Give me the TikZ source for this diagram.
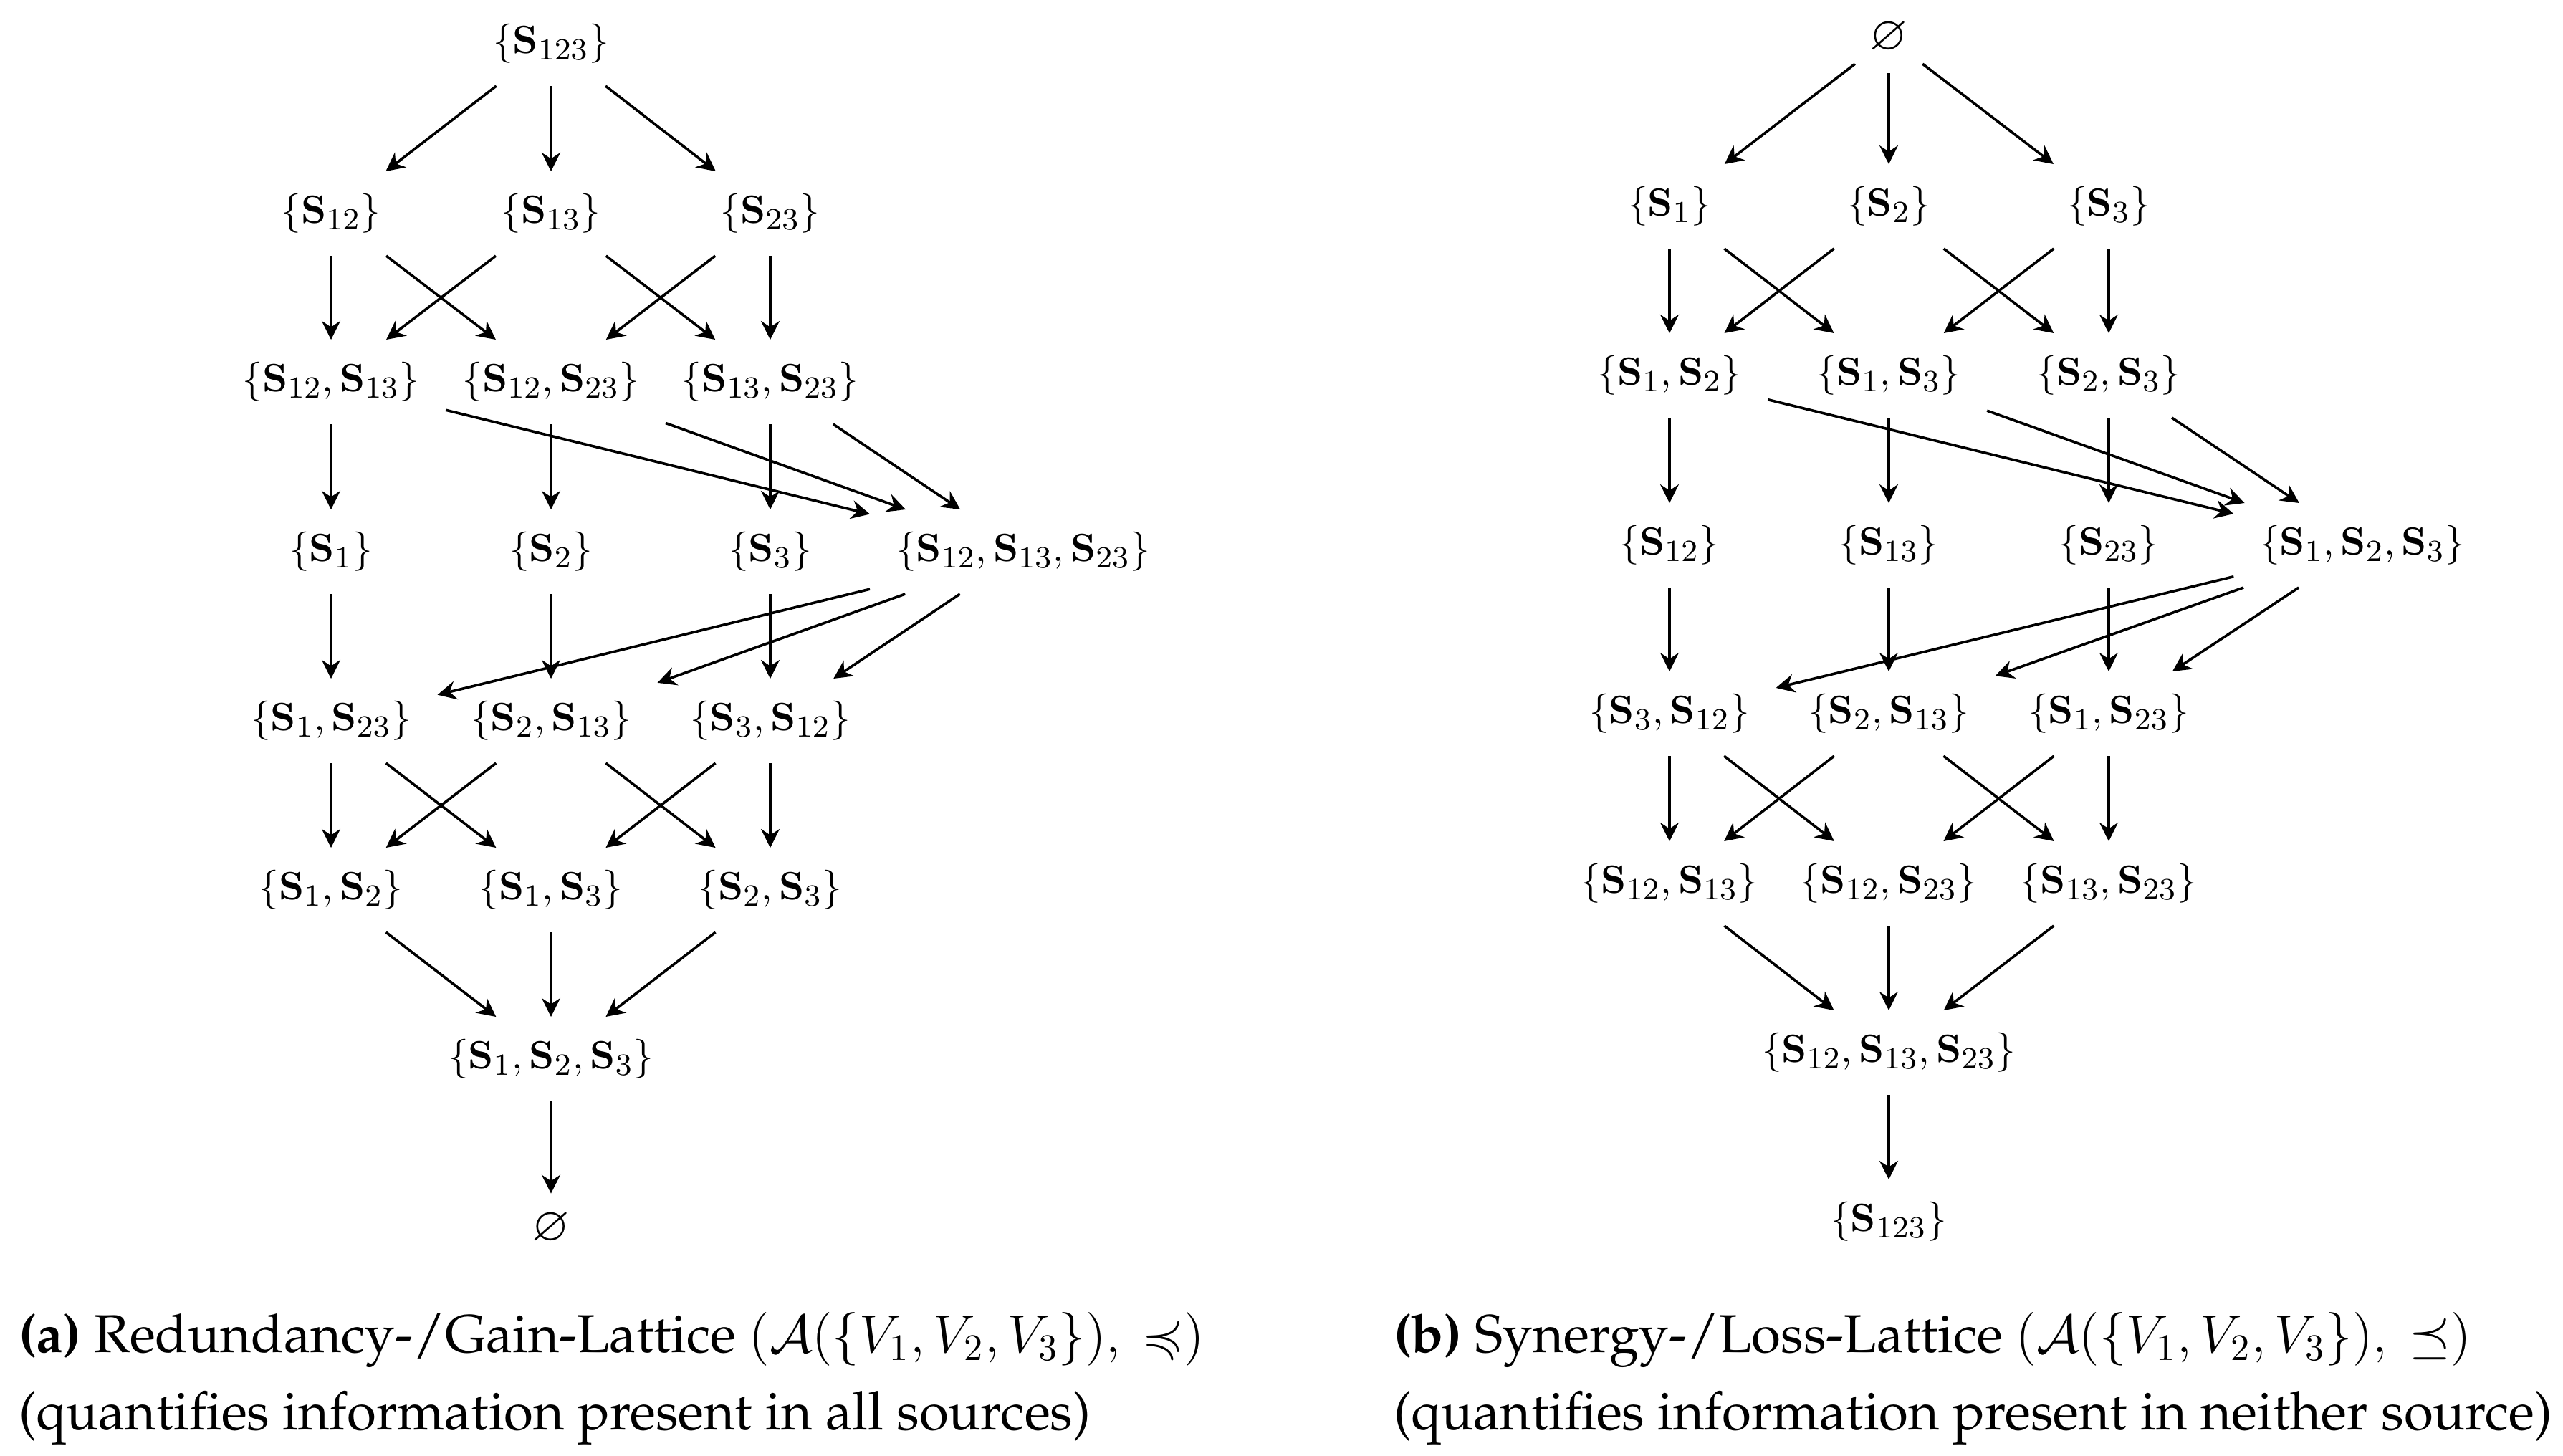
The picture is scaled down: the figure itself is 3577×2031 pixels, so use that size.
\RequirePackage{fix-cm}
\documentclass[tikz,border=0pt]{standalone}
\usepackage[T1,TU]{fontenc}
\usepackage{amsmath,amssymb}
\usetikzlibrary{arrows.meta}
\DeclareMathSizes{11}{11}{8.6}{6.5}
\newcommand{\myS}{\mathbf{S}}
\newcommand{\capfont}{\fontencoding{T1}\fontfamily{ppl}\fontsize{14.9}{21.6}\selectfont}
\tikzset{
  lat/.style={inner xsep=7.2pt, inner ysep=6.1pt, text height=8.25pt, text depth=2.75pt, font=\fontsize{11}{13}\selectfont},
  es/.style={inner xsep=4pt, inner ysep=5.2pt, font=\fontsize{13.5}{16}\selectfont},
  arr/.style={-{Stealth[length=5.2pt,width=5.2pt,inset=1.7pt]}, line width=0.72pt},
  captxt/.style={anchor=base west, inner sep=0pt, font=\capfont}
}
\begin{document}
\begin{tikzpicture}[x=0.2pt,y=-0.2pt]
\useasboundingbox (0,0) rectangle (3577,2031);
% ---------- left lattice ----------
\node[lat] (a0)  at (769,61)   {$\{\myS_{123}\}$};
\node[lat] (a11) at (462,298)  {$\{\myS_{12}\}$};
\node[lat] (a12) at (769,298)  {$\{\myS_{13}\}$};
\node[lat] (a13) at (1075,298) {$\{\myS_{23}\}$};
\node[lat] (a21) at (462,533)  {$\{\myS_{12},\myS_{13}\}$};
\node[lat] (a22) at (769,533)  {$\{\myS_{12},\myS_{23}\}$};
\node[lat] (a23) at (1075,533) {$\{\myS_{13},\myS_{23}\}$};
\node[lat] (a31) at (462,770)  {$\{\myS_{1}\}$};
\node[lat] (a32) at (769,770)  {$\{\myS_{2}\}$};
\node[lat] (a33) at (1075,770) {$\{\myS_{3}\}$};
\node[lat] (a34) at (1428,770) {$\{\myS_{12},\myS_{13},\myS_{23}\}$};
\node[lat] (a41) at (462,1006) {$\{\myS_{1},\myS_{23}\}$};
\node[lat] (a42) at (769,1006) {$\{\myS_{2},\myS_{13}\}$};
\node[lat] (a43) at (1075,1006){$\{\myS_{3},\myS_{12}\}$};
\node[lat] (a51) at (462,1242) {$\{\myS_{1},\myS_{2}\}$};
\node[lat] (a52) at (769,1242) {$\{\myS_{1},\myS_{3}\}$};
\node[lat] (a53) at (1075,1242){$\{\myS_{2},\myS_{3}\}$};
\node[lat] (a6)  at (769,1478) {$\{\myS_{1},\myS_{2},\myS_{3}\}$};
\node[es]  (a7)  at (769,1715) {$\varnothing$};
\foreach \s/\t in {a0/a11,a0/a12,a0/a13,
  a11/a21,a11/a22,a12/a21,a12/a23,a13/a22,a13/a23,
  a21/a31,a22/a32,a23/a33,a21/a34,a22/a34,a23/a34,
  a31/a41,a32/a42,a33/a43,a34/a41,a34/a42,a34/a43,
  a41/a51,a41/a52,a42/a51,a42/a53,a43/a52,a43/a53,
  a51/a6,a52/a6,a53/a6,a6/a7}
  \draw[arr] (\s) -- (\t);
% ---------- right lattice ----------
\node[es]  (b0)  at (2636,53)   {$\varnothing$};
\node[lat] (b11) at (2330,288)  {$\{\myS_{1}\}$};
\node[lat] (b12) at (2636,288)  {$\{\myS_{2}\}$};
\node[lat] (b13) at (2943,288)  {$\{\myS_{3}\}$};
\node[lat] (b21) at (2330,524)  {$\{\myS_{1},\myS_{2}\}$};
\node[lat] (b22) at (2636,524)  {$\{\myS_{1},\myS_{3}\}$};
\node[lat] (b23) at (2943,524)  {$\{\myS_{2},\myS_{3}\}$};
\node[lat] (b31) at (2330,761)  {$\{\myS_{12}\}$};
\node[lat] (b32) at (2636,761)  {$\{\myS_{13}\}$};
\node[lat] (b33) at (2943,761)  {$\{\myS_{23}\}$};
\node[lat] (b34) at (3297,761)  {$\{\myS_{1},\myS_{2},\myS_{3}\}$};
\node[lat] (b41) at (2330,996)  {$\{\myS_{3},\myS_{12}\}$};
\node[lat] (b42) at (2636,996)  {$\{\myS_{2},\myS_{13}\}$};
\node[lat] (b43) at (2943,996)  {$\{\myS_{1},\myS_{23}\}$};
\node[lat] (b51) at (2330,1233) {$\{\myS_{12},\myS_{13}\}$};
\node[lat] (b52) at (2636,1233) {$\{\myS_{12},\myS_{23}\}$};
\node[lat] (b53) at (2943,1233) {$\{\myS_{13},\myS_{23}\}$};
\node[lat] (b6)  at (2636,1469) {$\{\myS_{12},\myS_{13},\myS_{23}\}$};
\node[lat] (b7)  at (2636,1705) {$\{\myS_{123}\}$};
\foreach \s/\t in {b0/b11,b0/b12,b0/b13,
  b11/b21,b11/b22,b12/b21,b12/b23,b13/b22,b13/b23,
  b21/b31,b22/b32,b23/b33,b21/b34,b22/b34,b23/b34,
  b31/b41,b32/b42,b33/b43,b34/b41,b34/b42,b34/b43,
  b41/b51,b41/b52,b42/b51,b42/b53,b43/b52,b43/b53,
  b51/b6,b52/b6,b53/b6,b6/b7}
  \draw[arr] (\s) -- (\t);
% ---------- captions ----------
\node[captxt] (ca1) at (25,1887) {\textbf{(a)} Redundancy-/Gain-Lattice $(\mathcal{A}(\{V_1,V_2,V_3\}),\ \preccurlyeq)$};
\node[captxt] (ca2) at (25,1995) {(quantifies information present in all sources)};
\node[captxt] (cb1) at (1944,1887) {\textbf{(b)} Synergy-/Loss-Lattice $(\mathcal{A}(\{V_1,V_2,V_3\}),\ \preceq)$};
\node[captxt] (cb2) at (1944,1995) {(quantifies information present in neither source)};
\end{tikzpicture}
\end{document}
